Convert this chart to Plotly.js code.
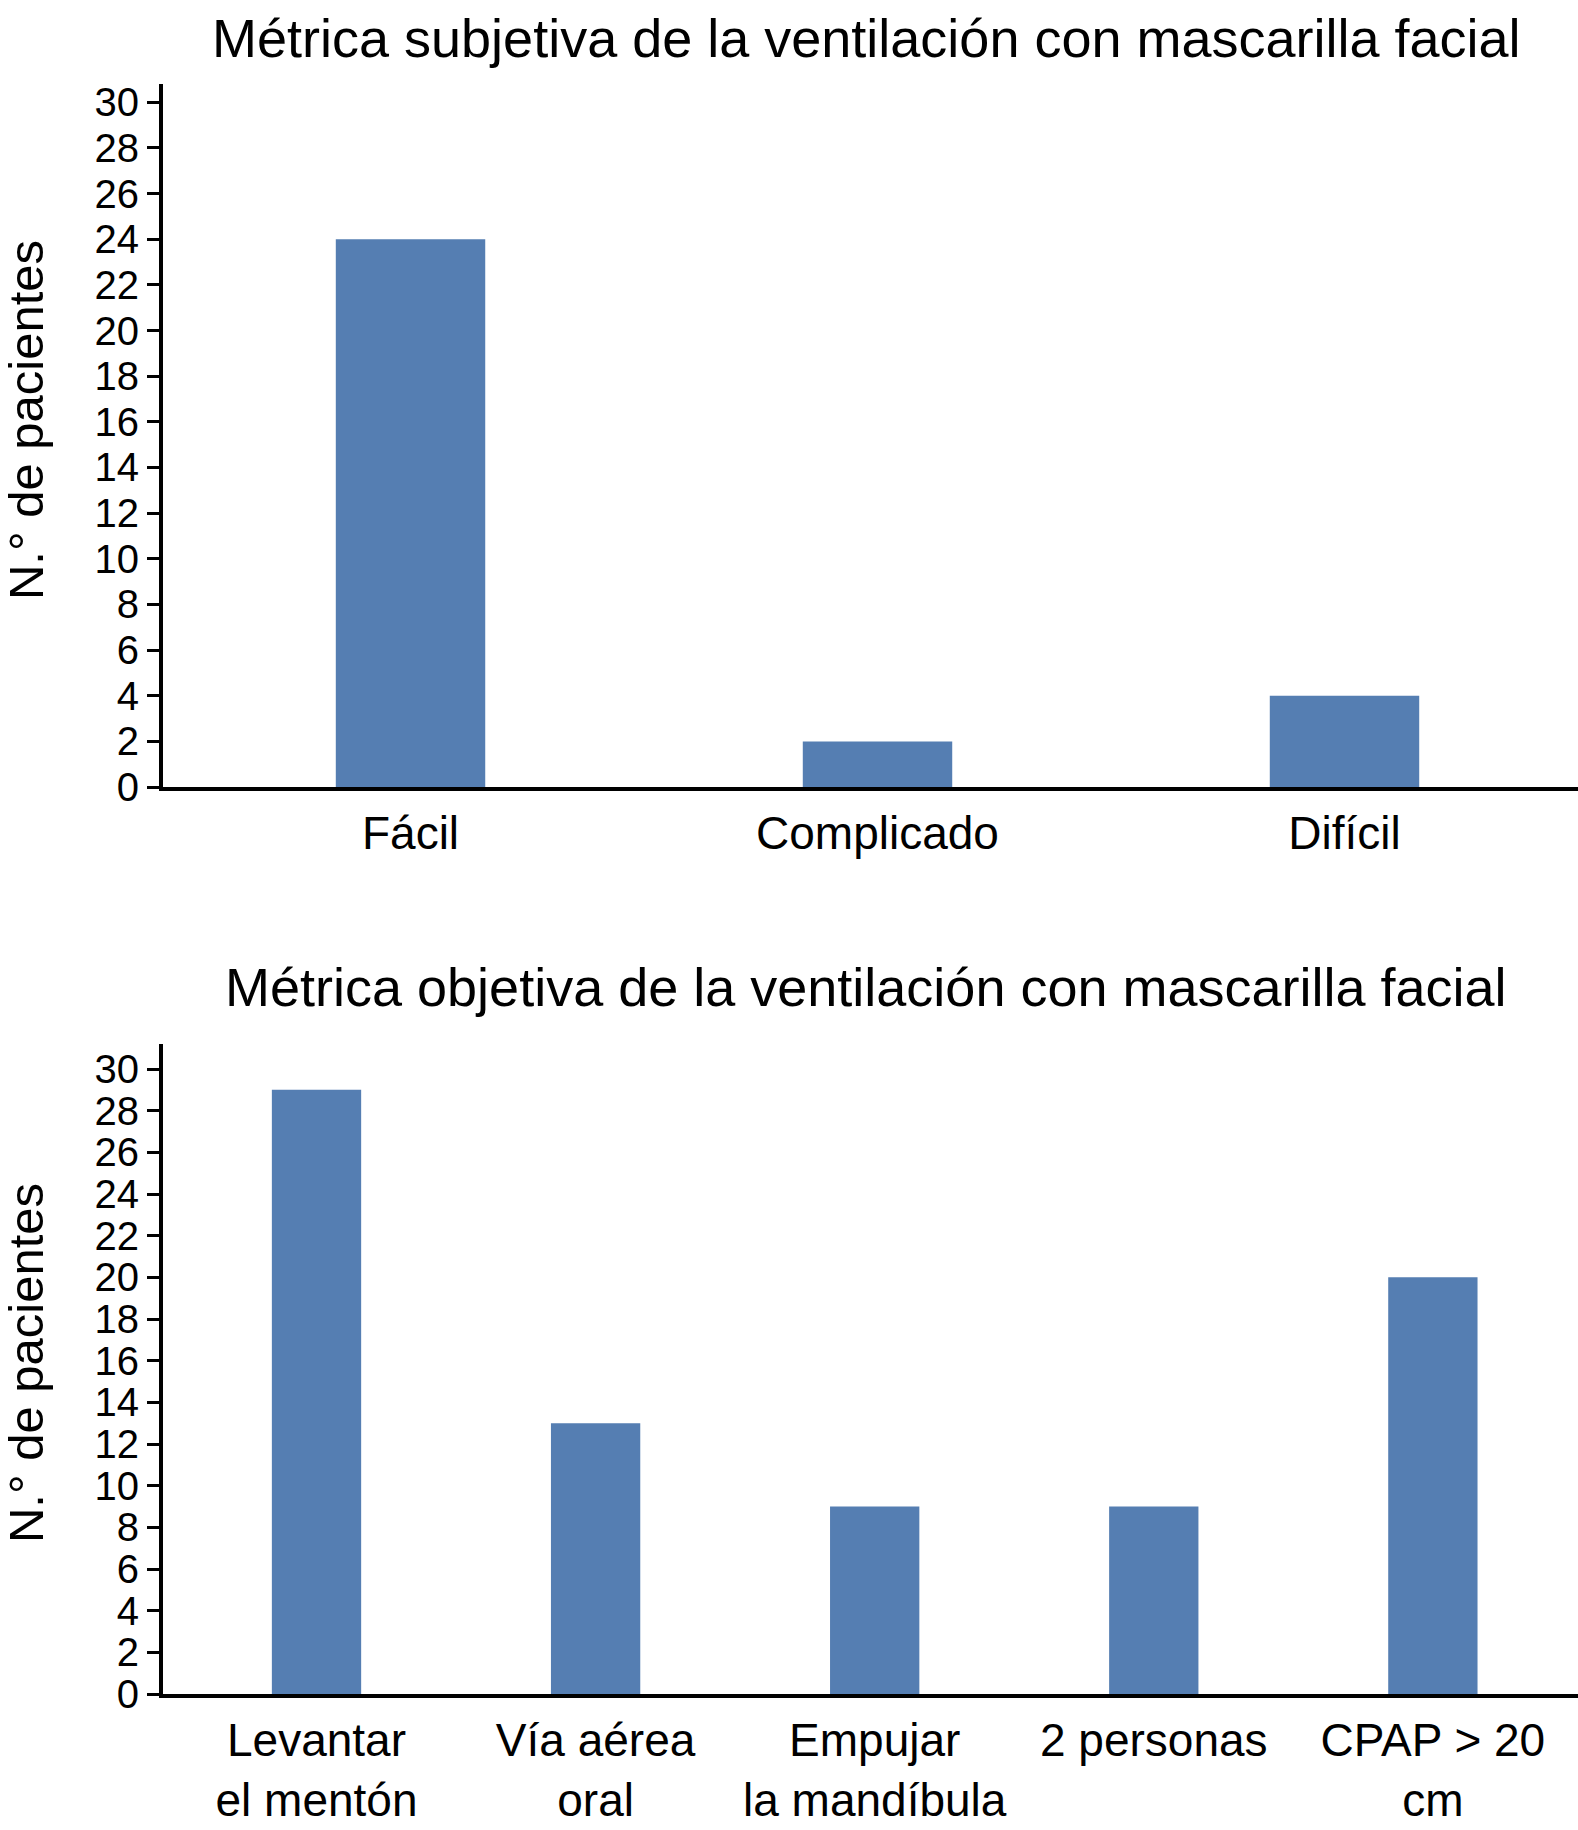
<!DOCTYPE html>
<html>
<head>
<meta charset="utf-8">
<script src="https://cdn.plot.ly/plotly-3.0.1.min.js"></script>
<style>
  body { margin: 0; background: #fff; }
  #plot { width: 1578px; height: 1830px; }
</style>
</head>
<body>
<div id="plot"></div>
<script>
// subjective metric (top panel)
var catsSubj = ["Fácil", "Complicado", "Difícil"];
var valsSubj = [24, 2, 4];

// objective metric (bottom panel)
var catsObj = ["Levantar<br>el mentón", "Vía aérea<br>oral", "Empujar<br>la mandíbula", "2 personas", "CPAP > 20<br>cm"];
var valsObj = [29, 13, 9, 9, 20];

var titleSubj = "Métrica subjetiva de la ventilación con mascarilla facial";
var titleObj = "Métrica objetiva de la ventilación con mascarilla facial";
var yTitle = "N.° de pacientes";

var FONT = "Liberation Sans, Arial, Helvetica, sans-serif";
var BAR = "#557eb2";

var traces = [
    {
        type: "bar",
        x: catsSubj,
        y: valsSubj,
        xaxis: "x",
        yaxis: "y",
        marker: {color: BAR, line: {width: 0}},
        hoverinfo: "skip"
    },
    {
        type: "bar",
        x: catsObj,
        y: valsObj,
        xaxis: "x2",
        yaxis: "y2",
        marker: {color: BAR, line: {width: 0}},
        hoverinfo: "skip"
    }
];

function yaxisStyle(domain, range){
    return {
        domain: domain,
        range: range,
        tick0: 0,
        dtick: 2,
        showgrid: false,
        zeroline: false,
        showline: true,
        linecolor: "#000",
        linewidth: 4,
        ticks: "outside",
        ticklen: 12,
        tickwidth: 3,
        tickcolor: "#000",
        ticklabelstandoff: 0,
        tickfont: {family: FONT, size: 40, color: "#000"}
    };
}

function xaxisStyle(domain, range, anchor){
    return {
        domain: domain,
        range: range,
        anchor: anchor,
        showgrid: false,
        zeroline: false,
        showline: true,
        linecolor: "#000",
        linewidth: 4,
        ticks: "",
        ticklabelstandoff: 3,
        tickfont: {family: FONT, size: 46, color: "#000"}
    };
}

var layout = {
    width: 1578,
    height: 1830,
    autosize: false,
    paper_bgcolor: "#fff",
    plot_bgcolor: "#fff",
    showlegend: false,
    bargap: 0.68,
    margin: {l: 0, r: 0, t: 0, b: 0},
    xaxis: xaxisStyle([0.1033, 1], [-0.53, 2.5], "y"),
    yaxis: yaxisStyle([0.5699, 0.9541], [0, 30.8]),
    xaxis2: xaxisStyle([0.1033, 1], [-0.55, 4.52], "y2"),
    yaxis2: yaxisStyle([0.0743, 0.4295], [0, 31.2]),
    annotations: [
        {
            text: titleSubj, xref: "paper", yref: "paper",
            x: 0.549, y: 0.9795, xanchor: "center", yanchor: "middle",
            showarrow: false, font: {family: FONT, size: 54, color: "#000"}
        },
        {
            text: titleObj, xref: "paper", yref: "paper",
            x: 0.549, y: 0.4605, xanchor: "center", yanchor: "middle",
            showarrow: false, font: {family: FONT, size: 54, color: "#000"}
        },
        {
            text: yTitle, xref: "paper", yref: "paper",
            x: 0.0165, y: 0.7705, xanchor: "center", yanchor: "middle",
            textangle: -90, showarrow: false,
            font: {family: FONT, size: 49, color: "#000"}
        },
        {
            text: yTitle, xref: "paper", yref: "paper",
            x: 0.0165, y: 0.2552, xanchor: "center", yanchor: "middle",
            textangle: -90, showarrow: false,
            font: {family: FONT, size: 49, color: "#000"}
        }
    ]
};

Plotly.newPlot("plot", traces, layout, {staticPlot: true, displayModeBar: false});
</script>
</body>
</html>
